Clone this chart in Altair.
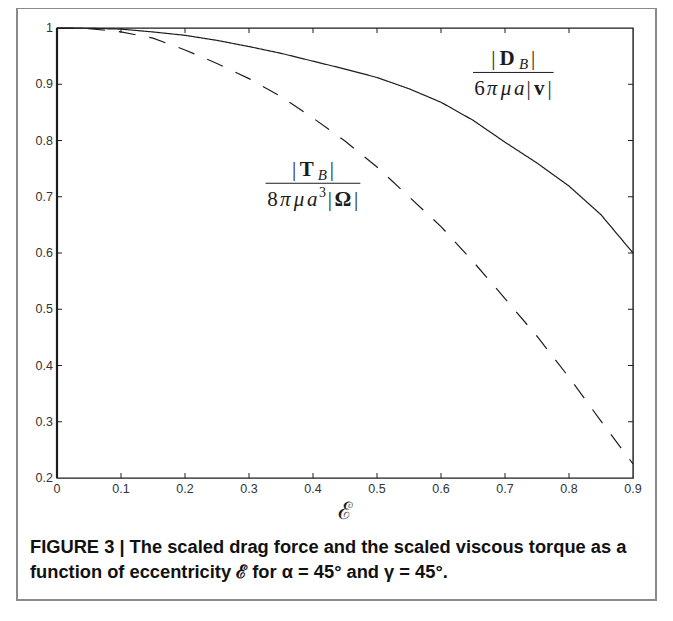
import altair as alt
import pandas as pd

# ---- data ----
ecc = [0.0, 0.05, 0.1, 0.15, 0.2, 0.25, 0.3, 0.35, 0.4, 0.45,
       0.5, 0.55, 0.6, 0.65, 0.7, 0.75, 0.8, 0.85, 0.9]
drag = [1.0, 0.9995, 0.998, 0.993, 0.987, 0.978, 0.967, 0.955, 0.941, 0.927,
        0.912, 0.892, 0.868, 0.836, 0.797, 0.760, 0.719, 0.668, 0.600]
torque = [1.0, 0.999, 0.993, 0.982, 0.961, 0.937, 0.910, 0.878, 0.840, 0.799,
          0.753, 0.700, 0.647, 0.585, 0.519, 0.452, 0.379, 0.301, 0.225]

x_ticks = [0, 0.1, 0.2, 0.3, 0.4, 0.5, 0.6, 0.7, 0.8, 0.9]
x_labels = ["0", "0.1", "0.2", "0.3", "0.4", "0.5", "0.6", "0.7", "0.8", "0.9"]
y_ticks = [0.2, 0.3, 0.4, 0.5, 0.6, 0.7, 0.8, 0.9, 1.0]
y_labels = ["0.2", "0.3", "0.4", "0.5", "0.6", "0.7", "0.8", "0.9", "1"]
x_title = "ℰ"

# fraction annotations (data coordinates)
lab_x = [0.713, 0.400]
lab_num_y = [0.945, 0.748]
lab_bar_y = [0.921, 0.724]
lab_den_y = [0.891, 0.694]
lab_bar_x1 = [0.650, 0.326]
lab_bar_x2 = [0.776, 0.474]

caption_lines = [
    "FIGURE 3 | The scaled drag force and the scaled viscous torque as a",
    "function of eccentricity ℰ for α = 45° and γ = 45°.",
]

W, H = 576, 450
INK = "#1c1c1c"

xs = alt.Scale(domain=[0, 0.9], nice=False, zero=False)
ys = alt.Scale(domain=[0.2, 1.0], nice=False, zero=False)

n = len(ecc)
df = pd.DataFrame({
    "e": ecc + ecc,
    "v": drag + torque,
    "s": ["drag"] * n + ["torque"] * n,
})

one = pd.DataFrame({"k": [0]})

lines = alt.Chart(df).mark_line(color=INK, strokeWidth=1.2).encode(
    x=alt.X("e:Q", scale=xs, axis=None),
    y=alt.Y("v:Q", scale=ys, axis=None),
    strokeDash=alt.StrokeDash("s:N", scale=alt.Scale(domain=["drag", "torque"],
                              range=[[1, 0], [17, 14]]), legend=None),
    detail="s:N",
)

border = alt.Chart(one).mark_rect(fill="white", fillOpacity=0, stroke="#8a8a8a",
                                  strokeWidth=2).encode(
    x=alt.value(-40), x2=alt.value(599), y=alt.value(-20), y2=alt.value(572)
)

xt_all = pd.DataFrame({"t": x_ticks, "lab": x_labels})
yt_all = pd.DataFrame({"t": y_ticks, "lab": y_labels})
xt = pd.DataFrame({"t": x_ticks[1:-1]})
yt = pd.DataFrame({"t": y_ticks[1:-1]})
TL = 5
tick_b = alt.Chart(xt).mark_rule(color=INK, strokeWidth=1).encode(
    x=alt.X("t:Q", scale=xs, axis=None), y=alt.value(H), y2=alt.value(H - TL))
tick_t = alt.Chart(xt).mark_rule(color=INK, strokeWidth=1).encode(
    x=alt.X("t:Q", scale=xs, axis=None), y=alt.value(0), y2=alt.value(TL))
tick_l = alt.Chart(yt).mark_rule(color=INK, strokeWidth=1).encode(
    y=alt.Y("t:Q", scale=ys, axis=None), x=alt.value(0), x2=alt.value(TL))
tick_r = alt.Chart(yt).mark_rule(color=INK, strokeWidth=1).encode(
    y=alt.Y("t:Q", scale=ys, axis=None), x=alt.value(W), x2=alt.value(W - TL))
left_edge = alt.Chart(one).mark_rule(color=INK, strokeWidth=2.2).encode(
    x=alt.value(0), y=alt.value(0), y2=alt.value(H))

x_lab = alt.Chart(xt_all).mark_text(
    font="Liberation Sans", fontSize=12.5, color="#333", align="center", baseline="top"
).encode(x=alt.X("t:Q", scale=xs, axis=None), y=alt.value(H + 5), text="lab:N")
y_lab = alt.Chart(yt_all).mark_text(
    font="Liberation Sans", fontSize=12.5, color="#333", align="right", baseline="middle"
).encode(y=alt.Y("t:Q", scale=ys, axis=None), x=alt.value(-4), text="lab:N")
x_ttl = alt.Chart(one).mark_text(
    text=x_title, font="DejaVu Serif", fontSize=24, color="#222",
    align="center", baseline="middle"
).encode(x=alt.value(W / 2), y=alt.value(H + 34))

layers = [lines, border, tick_b, tick_t, tick_l, tick_r, left_edge, x_lab, y_lab, x_ttl]

# fraction bars
for i in range(2):
    bd = pd.DataFrame({"x1": [lab_bar_x1[i]], "x2": [lab_bar_x2[i]], "y": [lab_bar_y[i]]})
    layers.append(alt.Chart(bd).mark_rule(color=INK, strokeWidth=1).encode(
        x=alt.X("x1:Q", scale=xs, axis=None), x2="x2:Q",
        y=alt.Y("y:Q", scale=ys, axis=None)))

S, s = 21, 15
# (label index, row, text, dx, dy, size, weight, style)
pieces = [
    (0, "num", "|", -19.9, 0, S, "normal", "normal"),
    (0, "num", "D", -6.2, 0, S, "bold", "normal"),
    (0, "num", "B", 10.3, 5, s, "normal", "italic"),
    (0, "num", "|", 19.9, 0, S, "normal", "normal"),
    (0, "den", "6", -33.7, 0, S, "normal", "normal"),
    (0, "den", "π", -21.2, 0, S, "normal", "italic"),
    (0, "den", "μ", -7.4, 0, S, "normal", "italic"),
    (0, "den", "a", 5.9, 0, S, "normal", "italic"),
    (0, "den", "|", 15.4, 0, S, "normal", "normal"),
    (0, "den", "v", 25.9, 0, S, "bold", "normal"),
    (0, "den", "|", 36.3, 0, S, "normal", "normal"),
    (1, "num", "|", -18.9, 0, S, "normal", "normal"),
    (1, "num", "T", -6.2, 0, S, "bold", "normal"),
    (1, "num", "B", 9.4, 5, s, "normal", "italic"),
    (1, "num", "|", 18.9, 0, S, "normal", "normal"),
    (1, "den", "8", -40.4, 0, S, "normal", "normal"),
    (1, "den", "π", -27.8, 0, S, "normal", "italic"),
    (1, "den", "μ", -14.1, 0, S, "normal", "italic"),
    (1, "den", "a", -0.8, 0, S, "normal", "italic"),
    (1, "den", "3", 9.5, -7, 14, "normal", "normal"),
    (1, "den", "|", 16.9, 0, S, "normal", "normal"),
    (1, "den", "Ω", 30.0, 0, S, "bold", "normal"),
    (1, "den", "|", 43.0, 0, S, "normal", "normal"),
]
for (i, row, txt, dx, dy, size, wt, st) in pieces:
    yv = lab_num_y[i] if row == "num" else lab_den_y[i]
    pdf = pd.DataFrame({"x": [lab_x[i]], "y": [yv]})
    layers.append(alt.Chart(pdf).mark_text(
        text=txt, dx=dx, dy=dy, fontSize=size, fontWeight=wt, fontStyle=st,
        font="Liberation Serif", color=INK, align="center", baseline="middle"
    ).encode(x=alt.X("x:Q", scale=xs, axis=None), y=alt.Y("y:Q", scale=ys, axis=None)))

for j, line in enumerate(caption_lines):
    layers.append(alt.Chart(one).mark_text(
        text=line, font="Liberation Sans", fontSize=18.3, fontWeight="bold",
        color="#111", align="left", baseline="middle"
    ).encode(x=alt.value(-27), y=alt.value(520 + 25 * j)))

chart = alt.layer(*layers).properties(
    width=W, height=H,
    padding={"left": 49, "top": 20, "right": 30, "bottom": 135},
    autosize="none",
).configure_view(stroke=INK, strokeWidth=1.4)

chart.save("out.html", embed_options={"renderer": "svg", "actions": False})
